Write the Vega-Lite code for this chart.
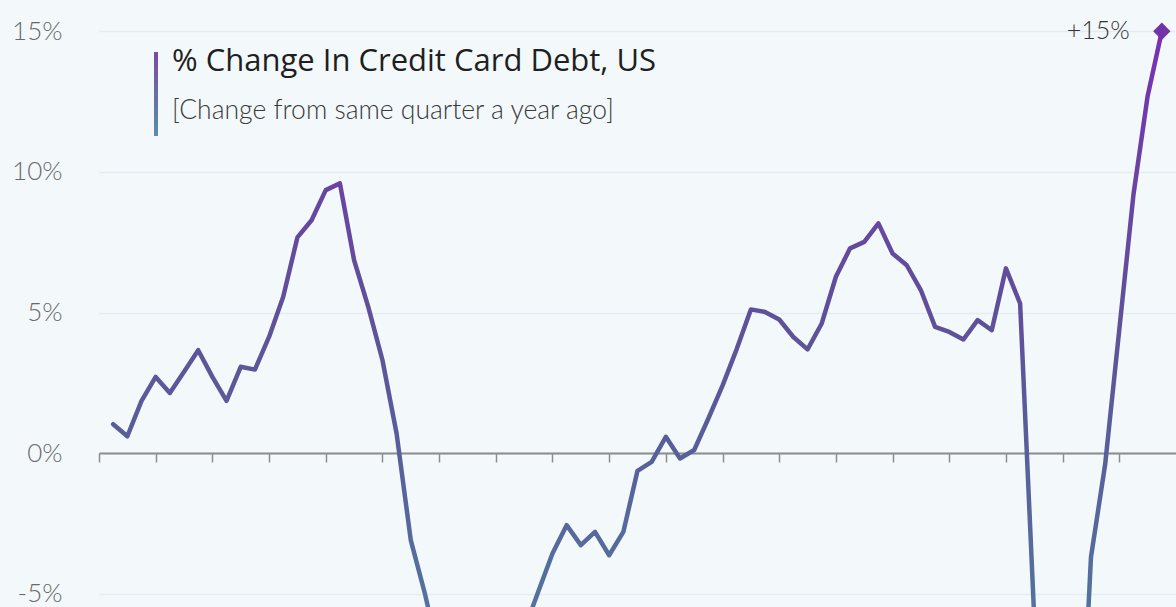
{
  "$schema": "https://vega.github.io/schema/vega-lite/v6.json",
  "width": 1077,
  "height": 607,
  "autosize": {"type": "none"},
  "padding": {"left": 99, "top": 0, "right": 0, "bottom": 0},
  "background": "#f3f9fb",
  "config": {"view": {"stroke": null}},
  "title": {
    "text": "% Change In Credit Card Debt, US",
    "subtitle": "[Change from same quarter a year ago]",
    "orient": "top",
    "anchor": "start",
    "frame": "group",
    "offset": -125,
    "dx": 73,
    "font": "Open Sans",
    "fontSize": 31,
    "fontWeight": 500,
    "color": "#1f1f1f",
    "subtitleFont": "Lato",
    "subtitleFontSize": 26.5,
    "subtitleFontWeight": 300,
    "subtitleColor": "#3a3a3a",
    "subtitlePadding": 20
  },
  "data": {
    "values": [
      {"t": 2004.25, "v": 1.03}, {"t": 2004.5, "v": 0.6}, {"t": 2004.75, "v": 1.86}, {"t": 2005.0, "v": 2.71},
      {"t": 2005.25, "v": 2.14}, {"t": 2005.5, "v": 2.89}, {"t": 2005.75, "v": 3.66}, {"t": 2006.0, "v": 2.71},
      {"t": 2006.25, "v": 1.86}, {"t": 2006.5, "v": 3.07}, {"t": 2006.75, "v": 2.97}, {"t": 2007.0, "v": 4.13},
      {"t": 2007.25, "v": 5.56}, {"t": 2007.5, "v": 7.67}, {"t": 2007.75, "v": 8.28}, {"t": 2008.0, "v": 9.35},
      {"t": 2008.25, "v": 9.59}, {"t": 2008.5, "v": 6.86}, {"t": 2008.75, "v": 5.2}, {"t": 2009.0, "v": 3.31},
      {"t": 2009.25, "v": 0.7}, {"t": 2009.5, "v": -3.09}, {"t": 2009.75, "v": -5.0}, {"t": 2010.0, "v": -7.2},
      {"t": 2010.25, "v": -9.6}, {"t": 2010.5, "v": -9.9}, {"t": 2010.75, "v": -9.6}, {"t": 2011.0, "v": -8.5},
      {"t": 2011.25, "v": -8.6}, {"t": 2011.5, "v": -6.3}, {"t": 2011.75, "v": -4.92}, {"t": 2012.0, "v": -3.57},
      {"t": 2012.25, "v": -2.56}, {"t": 2012.5, "v": -3.27}, {"t": 2012.75, "v": -2.8}, {"t": 2013.0, "v": -3.63},
      {"t": 2013.25, "v": -2.8}, {"t": 2013.5, "v": -0.63}, {"t": 2013.75, "v": -0.31}, {"t": 2014.0, "v": 0.58},
      {"t": 2014.25, "v": -0.19}, {"t": 2014.5, "v": 0.11}, {"t": 2014.75, "v": 1.23}, {"t": 2015.0, "v": 2.4},
      {"t": 2015.25, "v": 3.7}, {"t": 2015.5, "v": 5.11}, {"t": 2015.75, "v": 5.02}, {"t": 2016.0, "v": 4.75},
      {"t": 2016.25, "v": 4.13}, {"t": 2016.5, "v": 3.69}, {"t": 2016.75, "v": 4.61}, {"t": 2017.0, "v": 6.27},
      {"t": 2017.25, "v": 7.28}, {"t": 2017.5, "v": 7.51}, {"t": 2017.75, "v": 8.17}, {"t": 2018.0, "v": 7.1},
      {"t": 2018.25, "v": 6.68}, {"t": 2018.5, "v": 5.79}, {"t": 2018.75, "v": 4.49}, {"t": 2019.0, "v": 4.31},
      {"t": 2019.25, "v": 4.04}, {"t": 2019.5, "v": 4.73}, {"t": 2019.75, "v": 4.37}, {"t": 2020.0, "v": 6.57},
      {"t": 2020.25, "v": 5.32}, {"t": 2020.5, "v": -5.9}, {"t": 2020.75, "v": -8.4}, {"t": 2021.0, "v": -11.8},
      {"t": 2021.25, "v": -13.8}, {"t": 2021.5, "v": -3.7}, {"t": 2021.75, "v": -0.4}, {"t": 2022.0, "v": 4.4},
      {"t": 2022.25, "v": 9.2}, {"t": 2022.5, "v": 12.7}, {"t": 2022.75, "v": 15.0}
    ]
  },
  "encoding": {
    "x": {
      "field": "t",
      "type": "quantitative",
      "scale": {"domain": [2004, 2023], "nice": false, "zero": false},
      "axis": {
        "title": null,
        "values": [2004, 2005, 2006, 2007, 2008, 2009, 2010, 2011, 2012, 2013, 2014, 2015, 2016, 2017, 2018, 2019, 2020, 2021, 2022],
        "labels": false,
        "grid": false,
        "offset": -154,
        "domainColor": "#8c8c8c",
        "domainWidth": 2,
        "tickColor": "#8c8c8c",
        "tickWidth": 1.5,
        "tickSize": 9
      }
    },
    "y": {
      "field": "v",
      "type": "quantitative",
      "scale": {"domain": [-5.47, 16.11], "nice": false, "zero": false},
      "axis": {
        "title": null,
        "values": [-5, 0, 5, 10, 15],
        "labelExpr": "datum.value + '%'",
        "domain": false,
        "ticks": false,
        "labelPadding": 37,
        "gridColor": "#e4ecef",
        "gridWidth": 1.5,
        "labelFont": "Lato",
        "labelFontSize": 26,
        "labelFontWeight": 300,
        "labelColor": "#6a6a6a"
      }
    }
  },
  "layer": [
    {
      "mark": {
        "type": "rect",
        "fill": {
          "gradient": "linear", "x1": 0, "y1": 0, "x2": 0, "y2": 1,
          "stops": [{"offset": 0, "color": "#7a4aa6"}, {"offset": 1, "color": "#5a8fa3"}]
        }
      },
      "encoding": {
        "x": {"datum": 2004.98, "type": "quantitative"},
        "x2": {"datum": 2005.03},
        "y": {"datum": 14.25, "type": "quantitative"},
        "y2": {"datum": 11.3}
      }
    },
    {
      "mark": {
        "type": "line",
        "clip": true,
        "strokeWidth": 4.5,
        "strokeJoin": "round",
        "strokeCap": "round",
        "stroke": {
          "gradient": "linear", "x1": 0, "y1": 0, "x2": 0, "y2": 1,
          "stops": [
            {"offset": 0, "color": "#7a2fb3"},
            {"offset": 0.174, "color": "#6a43a4"},
            {"offset": 0.347, "color": "#5f5099"},
            {"offset": 0.52, "color": "#585f9a"},
            {"offset": 0.694, "color": "#54719d"},
            {"offset": 1, "color": "#4f8aa0"}
          ]
        }
      }
    },
    {
      "transform": [{"filter": "datum.t == 2022.75"}],
      "mark": {"type": "point", "shape": "diamond", "filled": true, "size": 300, "color": "#7232a8", "opacity": 1}
    },
    {
      "transform": [{"filter": "datum.t == 2022.75"}],
      "mark": {"type": "text", "text": "+15%", "align": "right", "baseline": "middle", "dx": -32, "font": "Lato", "fontSize": 25, "fontWeight": 300, "color": "#333333"}
    }
  ]
}
